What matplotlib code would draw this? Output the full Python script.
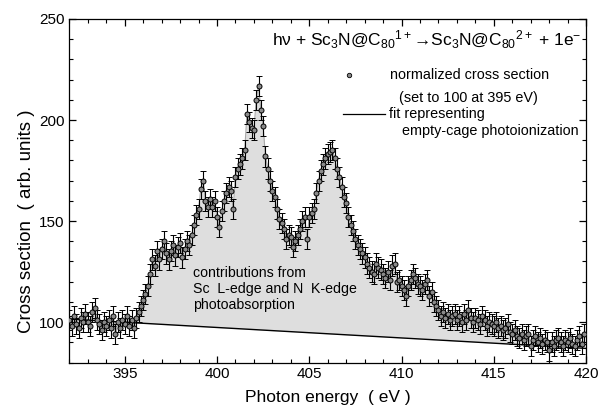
import numpy as np
import matplotlib
matplotlib.use("Agg")
import matplotlib.pyplot as plt
from matplotlib.ticker import MultipleLocator, FixedLocator

plt.rcParams['font.family'] = ['Liberation Sans', 'DejaVu Sans']
plt.rcParams['mathtext.fontset'] = 'custom'
plt.rcParams['mathtext.rm'] = 'Liberation Sans'
plt.rcParams['mathtext.it'] = 'Liberation Sans:italic'

# photon energy grid start / step (eV)
e_start = 392.0
e_step = 0.125

# normalized cross section, 8 points per eV
cross_section = [
    101, 98, 103, 99, 97, 102, 100, 104,     # 392
    100, 98, 105, 107, 101, 99, 96, 100,     # 393
    98, 101, 97, 103, 94, 100, 97, 101,      # 394
    99, 103, 98, 101, 97, 102, 105, 108,     # 395
    111, 114, 118, 124, 131, 128, 135, 131,  # 396
    136, 140, 134, 131, 135, 138, 133, 137,  # 397
    139, 132, 136, 140, 138, 143, 148, 153,  # 398
    156, 166, 170, 160, 157, 161, 157, 160,  # 399
    152, 147, 155, 160, 164, 167, 165, 156,  # 400
    172, 176, 178, 181, 185, 203, 199, 196,  # 401
    195, 210, 217, 205, 197, 182, 176, 170,  # 402
    165, 162, 156, 151, 149, 146, 141, 143,  # 403
    142, 137, 140, 143, 146, 150, 152, 141,  # 404
    152, 154, 156, 164, 170, 175, 178, 181,  # 405
    183, 184, 185, 181, 176, 172, 167, 162,  # 406
    159, 152, 148, 145, 141, 138, 136, 134,  # 407
    132, 129, 127, 125, 124, 129, 127, 126,  # 408
    124, 122, 125, 121, 128, 129, 120, 121,  # 409
    118, 116, 113, 118, 121, 124, 122, 119,  # 410
    118, 116, 119, 121, 113, 115, 110, 108,  # 411
    106, 103, 105, 102, 104, 101, 103, 104,  # 412
    101, 103, 100, 104, 101, 106, 102, 100,  # 413
    102, 101, 99, 103, 101, 98, 100, 99,     # 414
    98, 100, 97, 98, 96, 97, 99, 95,         # 415
    94, 96, 93, 92, 94, 91, 93, 94,          # 416
    88, 91, 93, 90, 92, 89, 91, 90,          # 417
    86, 90, 88, 91, 92, 90, 88, 91,          # 418
    90, 92, 89, 88, 91, 93, 89, 94,          # 419
]
err = 5.0

# empty-cage photoionization fit (straight line), end points
fit_x = [392.0, 420.0]
fit_y = [101.5, 87.0]

energy = e_start + e_step * np.arange(len(cross_section))
data = np.array(cross_section, dtype=float)
fit_on_grid = np.interp(energy, fit_x, fit_y)

fig = plt.figure(figsize=(6.03, 4.12), dpi=100)
ax = fig.add_axes([0.115, 0.12, 0.857, 0.834])

ax.fill_between(energy, fit_on_grid, data, color='#dedede', lw=0, zorder=1)
ax.plot(energy, data, color='#a8a8a8', lw=0.8, zorder=2)
ax.plot(fit_x, fit_y, color='black', lw=1.0, zorder=3)
ax.errorbar(energy, data, yerr=err, fmt='o', ms=3.6, mfc='#8a8a8a', mec='black',
            mew=0.7, ecolor='black', elinewidth=0.8, capsize=2, capthick=0.8, zorder=4)

ax.set_xlim(392, 420)
ax.set_ylim(80, 250)
ax.xaxis.set_major_locator(MultipleLocator(5))
ax.xaxis.set_minor_locator(MultipleLocator(1))
ax.yaxis.set_major_locator(FixedLocator([100, 150, 200, 250]))
ax.yaxis.set_minor_locator(MultipleLocator(10))
ax.tick_params(which='both', direction='in', top=True, right=True, labelsize=11)
ax.tick_params(which='major', length=5, width=0.9)
ax.tick_params(which='minor', length=3, width=0.8)
for s in ax.spines.values():
    s.set_linewidth(0.9)

ax.set_xlabel('Photon energy  ( eV )', fontsize=12.5, labelpad=6)
ax.set_ylabel('Cross section  ( arb. units )', fontsize=13.5)
ax.yaxis.set_label_coords(-0.067, 0.412)

ax.text(0.99, 0.939,
        r'hν + Sc$_3$N@C$_{80}$$^{1+}$→Sc$_3$N@C$_{80}$$^{2+}$ + 1e$^{-}$',
        transform=ax.transAxes, ha='right', va='center', fontsize=12.5)

# legend drawn by hand, as in the original
ax.plot([0.541], [0.837], 'o', transform=ax.transAxes, ms=3.2, mfc='#8a8a8a',
        mec='black', mew=0.6, clip_on=False)
ax.text(0.621, 0.837, 'normalized cross section', transform=ax.transAxes,
        ha='left', va='center', fontsize=10.4)
ax.text(0.638, 0.770, '(set to 100 at 395 eV)', transform=ax.transAxes,
        ha='left', va='center', fontsize=10.4)
ax.plot([0.529, 0.610], [0.724, 0.724], color='black', lw=0.9, transform=ax.transAxes)
ax.text(0.618, 0.724, 'fit representing', transform=ax.transAxes,
        ha='left', va='center', fontsize=10.4)
ax.text(0.644, 0.674, 'empty-cage photoionization', transform=ax.transAxes,
        ha='left', va='center', fontsize=10.4)

ax.text(0.239, 0.214, 'contributions from\nSc  L-edge and N  K-edge\nphotoabsorption',
        transform=ax.transAxes, ha='left', va='center', fontsize=10.2,
        linespacing=1.15)

fig.savefig('out.png', dpi=100)
